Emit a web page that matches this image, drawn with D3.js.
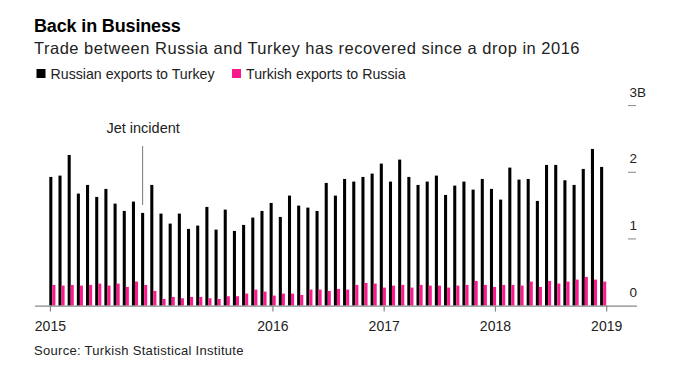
<!DOCTYPE html>
<html>
<head>
<meta charset="utf-8">
<script src="https://cdn.jsdelivr.net/npm/d3@7"></script>
<style>
  html, body { margin: 0; padding: 0; background: #fff; }
  svg { display: block; font-family: "Liberation Sans", Arial, Helvetica, sans-serif; }
</style>
</head>
<body>
<svg id="chart" width="675" height="375"></svg>
<script>
// ---- data (monthly, billions USD) ----
const months = d3.range(61); // month index, first bar = Jan 2015
const russianExports = [
  1.93, 1.95, 2.26, 1.68, 1.81, 1.63, 1.75, 1.53, 1.42, 1.56, 1.39, 1.81,
  1.38, 1.23, 1.38, 1.15, 1.20, 1.48, 1.14, 1.44, 1.12, 1.21, 1.32, 1.42,
  1.54, 1.33, 1.65, 1.50, 1.47, 1.42, 1.84, 1.65, 1.90, 1.86, 1.93, 1.98,
  2.13, 1.86, 2.19, 1.93, 1.81, 1.86, 1.95, 1.66, 1.80, 1.86, 1.74, 1.90,
  1.75, 1.59, 2.07, 1.89, 1.90, 1.57, 2.11, 2.11, 1.88, 1.81, 2.05, 2.35,
  2.08
];
const turkishExports = [
  0.31, 0.30, 0.31, 0.30, 0.31, 0.33, 0.30, 0.33, 0.28, 0.36, 0.31, 0.22,
  0.10, 0.13, 0.11, 0.13, 0.13, 0.11, 0.10, 0.14, 0.14, 0.18, 0.24, 0.21,
  0.15, 0.18, 0.18, 0.16, 0.24, 0.24, 0.22, 0.25, 0.24, 0.31, 0.34, 0.33,
  0.27, 0.30, 0.31, 0.27, 0.31, 0.30, 0.30, 0.27, 0.30, 0.31, 0.37, 0.31,
  0.28, 0.31, 0.31, 0.30, 0.36, 0.28, 0.37, 0.33, 0.36, 0.39, 0.43, 0.39,
  0.36
];
const seriesNames = ["Russian exports to Turkey", "Turkish exports to Russia"];
const seriesColors = ["#000000", "#fb1a8c"];
const xTickMonths = [0, 24, 36, 48, 60];
const xTickLabels = ["2015", "2016", "2017", "2018", "2019"];
const yTickValues = [0, 1, 2, 3];
const yTickLabels = ["0", "1", "2", "3B"];
const jetMonth = 10;
const jetLabel = "Jet incident";

// ---- layout ----
const svg = d3.select("#chart");
const step = 9.18;
const x0 = 49.3;
const xBand = d3.scaleBand()
  .domain(months)
  .range([x0, x0 + 60 * step + step * 2 / 3])
  .paddingInner(1 / 3)
  .paddingOuter(0);
const xSub = d3.scaleBand()
  .domain([0, 1])
  .range([0, xBand.bandwidth()]);
const xTime = d3.scaleLinear().domain([0, 60]).range([50.4, 606.7]);
const y = d3.scaleLinear().domain([0, 3]).range([305.6, 105.6]);

// ---- titles ----
svg.append("text").attr("x", 34).attr("y", 32.3)
  .attr("font-size", 18).attr("font-weight", "bold").attr("fill", "#000")
  .attr("letter-spacing", "-0.15")
  .text("Back in Business");
svg.append("text").attr("x", 34).attr("y", 54.3)
  .attr("font-size", 16.5).attr("fill", "#222")
  .attr("letter-spacing", "0.5")
  .text("Trade between Russia and Turkey has recovered since a drop in 2016");

// ---- legend ----
const legendX = [36.5, 232];
seriesNames.forEach((name, i) => {
  const g = svg.append("g").attr("transform", `translate(${legendX[i]},69)`);
  g.append("rect").attr("width", 9).attr("height", 9).attr("fill", seriesColors[i]);
  g.append("text").attr("x", 14).attr("y", 9.5)
    .attr("font-size", 14.2).attr("fill", "#222").text(name);
});

// ---- y axis (right) ----
const yAxis = svg.append("g");
yTickValues.forEach((v, i) => {
  if (v > 0) {
    yAxis.append("line")
      .attr("x1", 628).attr("x2", 636)
      .attr("y1", y(v)).attr("y2", y(v))
      .attr("stroke", "#888").attr("stroke-width", 1);
  }
  yAxis.append("text")
    .attr("x", 629.5).attr("y", y(v) - 9)
    .attr("font-size", 13.5).attr("fill", "#222")
    .text(yTickLabels[i]);
});

// ---- bars ----
const data = months.map(m => ({ m, vals: [russianExports[m], turkishExports[m]] }));
const groups = svg.append("g").selectAll("g")
  .data(data).join("g")
  .attr("transform", d => `translate(${xBand(d.m)},0)`);
groups.selectAll("rect")
  .data(d => d.vals.map((v, k) => ({ k, v })))
  .join("rect")
  .attr("x", d => xSub(d.k))
  .attr("width", xSub.bandwidth())
  .attr("y", d => y(d.v))
  .attr("height", d => y(0) - y(d.v))
  .attr("fill", d => seriesColors[d.k]);

// ---- x axis ----
const xAxis = svg.append("g");
xAxis.append("line")
  .attr("x1", 35).attr("x2", 637)
  .attr("y1", y(0) + 0.5).attr("y2", y(0) + 0.5)
  .attr("stroke", "#888").attr("stroke-width", 1.2);
xTickMonths.forEach((m, i) => {
  xAxis.append("line")
    .attr("x1", xTime(m)).attr("x2", xTime(m))
    .attr("y1", y(0)).attr("y2", y(0) + 6)
    .attr("stroke", "#888").attr("stroke-width", 1.2);
  xAxis.append("text")
    .attr("x", xTime(m)).attr("y", 331)
    .attr("text-anchor", "middle")
    .attr("font-size", 14).attr("fill", "#222")
    .text(xTickLabels[i]);
});

// ---- annotation ----
const jetX = xBand(jetMonth) + xSub.bandwidth() / 2;
svg.append("line")
  .attr("x1", jetX).attr("x2", jetX)
  .attr("y1", 146).attr("y2", y(russianExports[jetMonth]) - 8)
  .attr("stroke", "#777").attr("stroke-width", 1);
svg.append("text")
  .attr("x", jetX + 0.5).attr("y", 132.5)
  .attr("text-anchor", "middle")
  .attr("font-size", 14.5).attr("fill", "#222")
  .text(jetLabel);

// ---- source ----
svg.append("text").attr("x", 34).attr("y", 355)
  .attr("font-size", 13).attr("fill", "#222")
  .attr("letter-spacing", "0.3")
  .text("Source: Turkish Statistical Institute");
</script>
</body>
</html>
